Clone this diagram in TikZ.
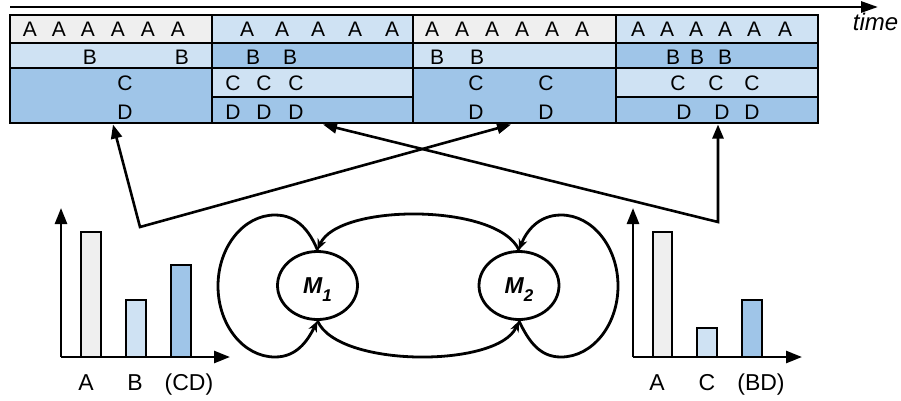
\documentclass[tikz,border=0pt]{standalone}
\usepackage{fontspec}
\setmainfont{Liberation Sans}
\usetikzlibrary{arrows.meta,shapes.geometric}
\definecolor{cgray}{HTML}{EFEFEF}
\definecolor{clight}{HTML}{CFE2F3}
\definecolor{cmed}{HTML}{9FC5E8}
\begin{document}
\begin{tikzpicture}[x=1pt,y=-1pt,
  gridline/.style={line width=2.8pt},
  lbl/.style={anchor=base,inner sep=0pt,font=\fontsize{21}{25}\selectfont},
  axlbl/.style={anchor=base,inner sep=0pt,font=\fontsize{23}{27}\selectfont},
  conn/.style={line width=2.6pt,line join=miter,{Triangle[length=14pt,width=11pt]}-{Triangle[length=14pt,width=11pt]}},
  looparrow/.style={line width=2.8pt,-{Stealth[length=11pt,width=9pt,inset=3.5pt]}},
  axisarrow/.style={line width=2.6pt,-{Triangle[length=16pt,width=12pt]}},
  bar/.style={draw=black,line width=2.8pt},
  state/.style={ellipse,draw,line width=2.8pt,minimum width=80pt,minimum height=68pt,inner sep=0pt,
    text height=16pt,text depth=0pt,font=\fontsize{23}{27}\selectfont\bfseries\itshape}
]
\useasboundingbox (0,0) rectangle (901,400);

% time axis
\coordinate (ts) at (10,7);
\coordinate (te) at (878,7);
\draw[line width=2.8pt,-{Triangle[length=17pt,width=11pt]}] (ts) -- (te);
\node[anchor=base,inner sep=0pt,font=\fontsize{24}{28}\selectfont\itshape] (time) at (875.5,30) {time};

% table fills
\fill[cgray]  (10,15) rectangle (212,43);
\fill[clight] (10,43) rectangle (212,68);
\fill[cmed]   (10,68) rectangle (212,123);
\fill[clight] (212,15) rectangle (413,43);
\fill[cmed]   (212,43) rectangle (413,68);
\fill[clight] (212,68) rectangle (413,97);
\fill[cmed]   (212,97) rectangle (413,123);
\fill[cgray]  (413,15) rectangle (616,43);
\fill[clight] (413,43) rectangle (616,68);
\fill[cmed]   (413,68) rectangle (616,123);
\fill[clight] (616,15) rectangle (818,43);
\fill[cmed]   (616,43) rectangle (818,68);
\fill[clight] (616,68) rectangle (818,97);
\fill[cmed]   (616,97) rectangle (818,123);
% table lines
\draw[gridline] (10,15) rectangle (818,123);
\draw[gridline] (212,15) -- (212,123);
\draw[gridline] (413,15) -- (413,123);
\draw[gridline] (616,15) -- (616,123);
\draw[gridline] (10,43) -- (818,43);
\draw[gridline] (10,68) -- (818,68);
\draw[gridline] (212,97) -- (413,97);
\draw[gridline] (616,97) -- (818,97);

% table texts
\foreach \x [count=\i] in {30,59,88,118,148,178,247,282,318,355,392,432,462,492,522,552,582,638,667,696,725,754,785}
  \node[lbl] (a\i) at (\x,36.5) {A};
\foreach \x [count=\i] in {90,182,253,290,437,477,673,697,725}
  \node[lbl] (b\i) at (\x,64.5) {B};
\foreach \x [count=\i] in {125,233,264,296,476,546,678,716,752}
  \node[lbl] (c\i) at (\x,90) {C};
\foreach \x [count=\i] in {125,233,264,296,476,546,684,722,752}
  \node[lbl] (d\i) at (\x,119) {D};

% connectors
\coordinate (t1) at (113,124.5);
\coordinate (t2) at (323,124.5);
\coordinate (t3) at (511,124.5);
\coordinate (t4) at (718,124.5);
\coordinate (v1) at (140,227);
\coordinate (v2) at (718,222);
\draw[conn] (t1) -- (v1) -- (t3);
\draw[conn] (t2) -- (v2) -- (t4);

% left histogram
\draw[bar,fill=cgray]  (81,357) rectangle (101,232);
\draw[bar,fill=clight] (126,357) rectangle (146,300);
\draw[bar,fill=cmed]   (171,357) rectangle (191,265);
\coordinate (o1) at (61,357);
\coordinate (y1) at (61,208);
\coordinate (x1) at (230,357);
\draw[axisarrow] (o1) -- (y1);
\draw[axisarrow] (o1) -- (x1);
\node[axlbl] (hA1) at (86,390.5) {A};
\node[axlbl] (hB1) at (135,390.5) {B};
\node[axlbl] (hCD) at (189,390.5) {(CD)};

% right histogram
\draw[bar,fill=cgray]  (653,357) rectangle (672,232);
\draw[bar,fill=clight] (697,357) rectangle (717,328);
\draw[bar,fill=cmed]   (742,357) rectangle (762,300);
\coordinate (o2) at (633,357);
\coordinate (y2) at (633,208);
\coordinate (x2) at (802,357);
\draw[axisarrow] (o2) -- (y2);
\draw[axisarrow] (o2) -- (x2);
\node[axlbl] (hA2) at (657,390.5) {A};
\node[axlbl] (hC2) at (707,390.5) {C};
\node[axlbl] (hBD) at (761,390.5) {(BD)};

% states
\node[state] (M1) at (317.5,285.5) {M\raisebox{-8pt}{\fontsize{17}{17}\selectfont 1}};
\node[state] (M2) at (519,285.5) {M\raisebox{-8pt}{\fontsize{17}{17}\selectfont 2}};

% loop way points
\coordinate (lt) at (275,215);
\coordinate (lw) at (218,286);
\coordinate (lb) at (275,357);
\coordinate (rt) at (561,215);
\coordinate (re) at (618,286);
\coordinate (rb) at (561,357);

\draw[looparrow] (M2.north) .. controls (498,203) and (338,203) .. (M1.north);
\draw[looparrow] (M1.south) .. controls (338,368) and (498,368) .. (M2.south);
\draw[looparrow] (M1.north) .. controls (310,232) and (298,215) .. (lt)
  .. controls (243.5,215) and (218,247) .. (lw)
  .. controls (218,325) and (243.5,357) .. (lb)
  .. controls (296,357) and (307,342) .. (M1.south);
\draw[looparrow] (M2.south) .. controls (529,342) and (540,357) .. (rb)
  .. controls (592.5,357) and (618,325) .. (re)
  .. controls (618,247) and (592.5,215) .. (rt)
  .. controls (538,215) and (526,232) .. (M2.north);
\end{tikzpicture}
\end{document}
